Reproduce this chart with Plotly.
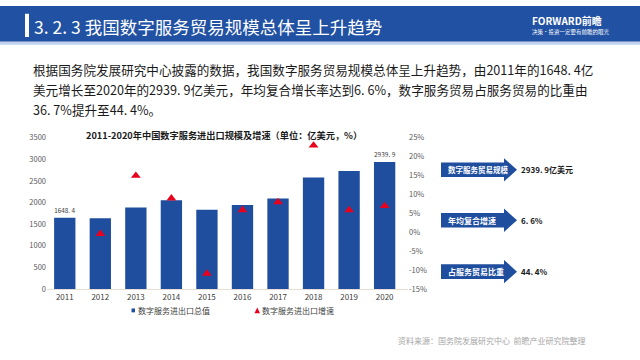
import plotly.graph_objects as go

years = ["2011", "2012", "2013", "2014", "2015", "2016", "2017", "2018", "2019", "2020"]
trade_value = [1648.4, 1640, 1885, 2057, 1833, 1945, 2094, 2580, 2730, 2939.9]
growth_rate = [-0.4, 15.0, 9.0, -10.9, 5.9, 8.0, 23.0, 5.9, 7.0]
growth_years = years[1:]
bar_labels = ["1648. 4", "", "", "", "", "", "", "", "", "2939. 9"]

left_ticks = [0, 500, 1000, 1500, 2000, 2500, 3000, 3500]
right_ticks = [-15, -10, -5, 0, 5, 10, 15, 20, 25]
right_tick_labels = [f"{v}%" for v in right_ticks]

legend_names = ["数字服务进出口总值", "数字服务进出口增速"]
callout_names = ["数字服务贸易规模", "年均复合增速", "占服务贸易比重"]
callout_values = ["2939. 9亿美元", "6. 6%", "44. 4%"]

title_text = "3. 2. 3 我国数字服务贸易规模总体呈上升趋势"
para_lines = [
    "根据国务院发展研究中心披露的数据，我国数字服务贸易规模总体呈上升趋势，由2011年的1648. 4亿",
    "美元增长至2020年的2939. 9亿美元，年均复合增长率达到6. 6%，数字服务贸易占服务贸易的比重由",
    "36. 7%提升至44. 4%。",
]
chart_title = "2011-2020年中国数字服务进出口规模及增速（单位：亿美元，%）"
source_text = "资料来源：国务院发展研究中心  前瞻产业研究院整理"

W, H = 640, 360
FONT = "Noto Sans CJK SC"
BLUE = "#1F4E9F"
HEAD_BLUE = "#2151A3"
RED = "#E8001C"


def X(px):
    return px / W


def Y(py):
    return 1 - py / H


fig = go.Figure()

fig.add_trace(go.Bar(
    x=years, y=trade_value, name=legend_names[0],
    marker=dict(color=BLUE, line=dict(width=0)), width=0.6,
    text=bar_labels, textposition="outside", cliponaxis=False,
    textfont=dict(size=8, color="#404040", family=FONT),
))
fig.add_trace(go.Scatter(
    x=growth_years, y=growth_rate, yaxis="y2", mode="markers",
    name=legend_names[1],
    marker=dict(symbol="triangle-up", size=8.5, color=RED),
))

shapes = []
# header band
shapes.append(dict(type="rect", xref="paper", yref="paper", x0=0, x1=1, y0=Y(37), y1=1,
                   fillcolor=HEAD_BLUE, line=dict(width=0), layer="below"))
shapes.append(dict(type="rect", xref="paper", yref="paper", x0=0, x1=1, y0=Y(40), y1=Y(37),
                   fillcolor="#BFD3EE", line=dict(width=0), layer="below"))
shapes.append(dict(type="rect", xref="paper", yref="paper", x0=X(25), x1=X(29), y0=Y(32), y1=Y(8),
                   fillcolor="white", line=dict(width=0)))

annotations = []
annotations.append(dict(text=title_text, x=X(32), y=Y(21), xref="paper", yref="paper",
                        xanchor="left", yanchor="middle", showarrow=False,
                        font=dict(size=17.5, color="white", family=FONT)))
annotations.append(dict(text="<b>FORWARD前瞻</b>", x=X(567), y=Y(15), xref="paper", yref="paper",
                        xanchor="center", yanchor="middle", showarrow=False,
                        font=dict(size=10, color="white", family=FONT)))
annotations.append(dict(text="决策·投资一定要有前瞻的眼光", x=X(571), y=Y(27), xref="paper", yref="paper",
                        xanchor="center", yanchor="middle", showarrow=False,
                        font=dict(size=5.5, color="white", family=FONT)))

for i, line in enumerate(para_lines):
    annotations.append(dict(text=line, x=X(31), y=Y(66 + 20.5 * i), xref="paper", yref="paper",
                            xanchor="left", yanchor="middle", showarrow=False,
                            font=dict(size=12.6, color="#1A1A1A", family=FONT)))

annotations.append(dict(text="<b>" + chart_title + "</b>", x=X(224), y=Y(133), xref="paper", yref="paper",
                        xanchor="center", yanchor="middle", showarrow=False,
                        font=dict(size=9.2, color="#1A1A1A", family=FONT)))

annotations.append(dict(text=source_text, x=X(396), y=Y(345), xref="paper", yref="paper",
                        xanchor="left", yanchor="middle", showarrow=False,
                        font=dict(size=8, color="#A6A6A6", family=FONT)))

# legend (drawn manually to match compact layout)
ly = 314
shapes.append(dict(type="rect", xref="paper", yref="paper", x0=X(131.5), x1=X(135), y0=Y(ly + 2),
                   y1=Y(ly - 2), fillcolor=BLUE, line=dict(width=0)))
annotations.append(dict(text=legend_names[0], x=X(136), y=Y(ly), xref="paper", yref="paper",
                        xanchor="left", yanchor="middle", showarrow=False,
                        font=dict(size=8, color="#404040", family=FONT)))
shapes.append(dict(type="path", xref="paper", yref="paper",
                   path=f"M {X(254.5)},{Y(ly + 3)} L {X(260)},{Y(ly + 3)} L {X(257.25)},{Y(ly - 3)} Z",
                   fillcolor=RED, line=dict(width=0)))
annotations.append(dict(text=legend_names[1], x=X(259.5), y=Y(ly), xref="paper", yref="paper",
                        xanchor="left", yanchor="middle", showarrow=False,
                        font=dict(size=8, color="#404040", family=FONT)))

centers = [169, 221, 274]
for cy, name, val in zip(centers, callout_names, callout_values):
    x0, xb, xt = 441, 504, 517
    bh, hh = 7.5, 12
    path = (f"M {X(x0)},{Y(cy-bh)} L {X(xb)},{Y(cy-bh)} L {X(xb)},{Y(cy-hh)} "
            f"L {X(xt)},{Y(cy)} L {X(xb)},{Y(cy+hh)} L {X(xb)},{Y(cy+bh)} "
            f"L {X(x0)},{Y(cy+bh)} Z")
    shapes.append(dict(type="path", xref="paper", yref="paper", path=path,
                       fillcolor=BLUE, line=dict(width=0)))
    annotations.append(dict(text="<b>" + name + "</b>", x=X(446), y=Y(cy), xref="paper", yref="paper",
                            xanchor="left", yanchor="middle", showarrow=False,
                            font=dict(size=7.5 if len(name) > 7 else 8, color="white", family=FONT)))
    annotations.append(dict(text="<b>" + val + "</b>", x=X(519), y=Y(cy), xref="paper", yref="paper",
                            xanchor="left", yanchor="middle", showarrow=False,
                            font=dict(size=8, color="#1A1A1A", family=FONT)))

fig.update_layout(
    width=W, height=H,
    margin=dict(l=0, r=0, t=0, b=0),
    paper_bgcolor="white", plot_bgcolor="white",
    font=dict(family=FONT, size=8, color="#595959"),
    xaxis=dict(domain=[X(47), X(408)], type="category", showgrid=False,
               showline=True, linecolor="#E6DDD5", linewidth=1, ticks="",
               tickfont=dict(size=8, color="#404040")),
    yaxis=dict(domain=[Y(292), Y(136)], range=[0, 3500], tickvals=left_ticks,
               showgrid=False, zeroline=False, showline=False, ticks="",
               tickfont=dict(size=7.5, color="#595959")),
    yaxis2=dict(overlaying="y", side="right", range=[-15, 25], tickvals=right_ticks,
                ticktext=right_tick_labels, showgrid=False, zeroline=False, showline=False,
                ticks="", tickfont=dict(size=7.5, color="#595959")),
    bargap=0.4,
    showlegend=False,
    hovermode=False,
    shapes=shapes,
    annotations=annotations,
)

fig.write_html("out.html",
               config={"displayModeBar": False},
               post_script="document.body.style.margin='0';document.body.style.padding='0';")
